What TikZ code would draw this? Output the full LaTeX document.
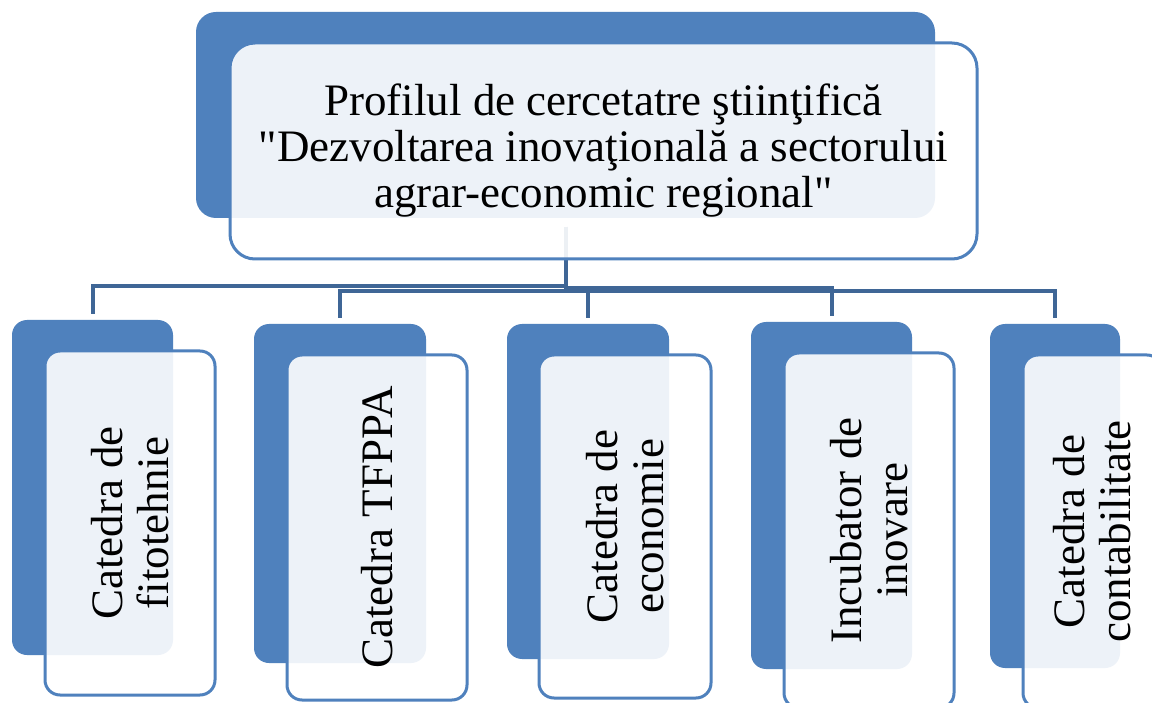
\documentclass[tikz,border=0pt]{standalone}
\usepackage{fontspec}
\setmainfont{Liberation Serif}[Ligatures=TeXOff]
\definecolor{accent}{RGB}{79,129,189}
\definecolor{connc}{RGB}{63,102,150}
\begin{document}
\begin{tikzpicture}[x=1pt,y=-1pt,
  backbox/.style={fill=accent, draw=none, rounded corners=15pt, inner sep=0pt, outer sep=0pt},
  frontbox/.style={fill=white, fill opacity=0.9, text opacity=1, draw=accent, line width=3pt,
    rounded corners=15pt, inner sep=0pt, outer sep=0pt, align=center,
    font=\fontsize{45}{46}\selectfont},
  conn/.style={draw=connc, line width=4pt},
  vert/.style={rotate=90}]
\clip (0,0) rectangle (1152,703);
\fill[white] (0,0) rectangle (1152,703);
% top back box
\node[backbox, rounded corners=20pt, minimum width=739pt, minimum height=206pt] (tb) at (565.5,115) {};
% child back boxes
\node[backbox, minimum width=161pt, minimum height=335pt] (c1) at (92.5,487.5) {};
\node[backbox, minimum width=172pt, minimum height=339pt] (c2) at (340,493.5) {};
\node[backbox, minimum width=162pt, minimum height=335pt] (c3) at (588,491.5) {};
\node[backbox, minimum width=161pt, minimum height=347pt] (c4) at (831.5,495.5) {};
\node[backbox, minimum width=130pt, minimum height=344pt] (c5) at (1055,496) {};
% connectors
\draw[conn, shorten <=9pt, shorten >=6pt] (tb.south) |- (c1.north |- 0,286) -- (c1.north);
\draw[conn, shorten <=9pt, shorten >=6pt] (tb.south) |- (c2.north |- 0,291) -- (c2.north);
\draw[conn, shorten <=9pt, shorten >=6pt] (tb.south) |- (c3.north |- 0,291) -- (c3.north);
\draw[conn, shorten <=9pt, shorten >=6pt] (tb.south) |- (c4.north |- 0,288) -- (c4.north);
\draw[conn, shorten <=9pt, shorten >=6pt] (tb.south) |- (c5.north |- 0,291) -- (c5.north);
% top front box
\node[frontbox, rounded corners=25pt, minimum width=747pt, minimum height=216pt] (tf) at (603.5,151)
  {Profilul de cercetatre ştiinţifică\\"Dezvoltarea inovaţională a sectorului\\agrar-economic regional"};
% child front boxes (rotated)
\node[frontbox, vert, minimum width=344pt, minimum height=170pt] (f1) at (130,523) {Catedra de\\fitotehnie};
\node[frontbox, vert, minimum width=345pt, minimum height=180pt] (f2) at (377,527.5) {Catedra TFPPA};
\node[frontbox, vert, minimum width=343pt, minimum height=172pt] (f3) at (625,526.5) {Catedra de\\economie};
\node[frontbox, vert, minimum width=355pt, minimum height=170pt] (f4) at (869,530.5) {Incubator de\\inovare};
\node[frontbox, vert, minimum width=353pt, minimum height=139pt] (f5) at (1092.5,531.5) {Catedra de\\contabilitate};
\end{tikzpicture}
\end{document}
